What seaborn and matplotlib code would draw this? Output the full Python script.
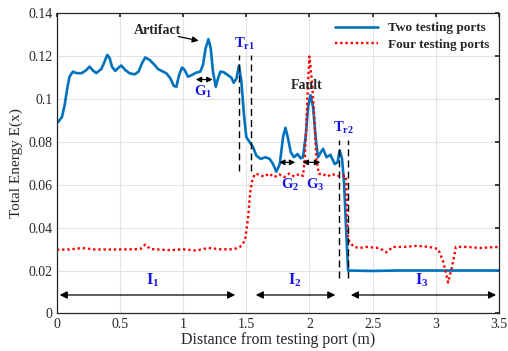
import numpy as np
import pandas as pd
import matplotlib
matplotlib.use("Agg")
import matplotlib.pyplot as plt
import seaborn as sns

# curva com duas portas de teste
x_two = [0.00, 0.013, 0.04, 0.061, 0.082, 0.10, 0.127, 0.154, 0.193, 0.225, 0.259,
         0.285, 0.312, 0.352, 0.378, 0.399, 0.418, 0.436, 0.462, 0.489, 0.51,
         0.542, 0.576, 0.616, 0.647, 0.674, 0.70, 0.735, 0.774, 0.80, 0.84, 0.867,
         0.899, 0.925, 0.946, 0.967, 0.991, 1.012, 1.038, 1.065, 1.104, 1.136,
         1.157, 1.178, 1.20, 1.218, 1.236, 1.258, 1.276, 1.295, 1.321, 1.355,
         1.382, 1.40, 1.422, 1.442, 1.461, 1.482, 1.50, 1.527, 1.553, 1.58, 1.614,
         1.651, 1.685, 1.712, 1.738, 1.765, 1.791, 1.81, 1.831, 1.852, 1.878,
         1.905, 1.931, 1.949, 1.971, 1.989, 2.008, 2.029, 2.05, 2.068, 2.09,
         2.108, 2.135, 2.166, 2.20, 2.222, 2.24, 2.258, 2.274, 2.29, 2.306, 2.40,
         2.50, 2.70, 3.00, 3.50]
y_two = [0.0888, 0.0895, 0.0915, 0.097, 0.1048, 0.1103, 0.1127, 0.112, 0.1119,
         0.113, 0.115, 0.1132, 0.112, 0.1139, 0.1174, 0.1205, 0.1189, 0.115,
         0.113, 0.1146, 0.1155, 0.1134, 0.1119, 0.1114, 0.1127, 0.1166, 0.1193,
         0.1181, 0.1158, 0.1139, 0.1127, 0.1119, 0.1095, 0.1061, 0.1056, 0.111,
         0.1146, 0.1134, 0.1103, 0.111, 0.1122, 0.1127, 0.1158, 0.1236, 0.1278,
         0.1236, 0.1127, 0.1056, 0.1095, 0.1127, 0.1124, 0.111, 0.1099, 0.1075,
         0.1095, 0.1155, 0.108, 0.0923, 0.0822, 0.0798, 0.0775, 0.0735, 0.072,
         0.0728, 0.072, 0.0696, 0.066, 0.0696, 0.0822, 0.0865, 0.0814, 0.0751,
         0.0728, 0.0743, 0.0723, 0.0728, 0.0829, 0.0962, 0.1017, 0.0962, 0.0814,
         0.0728, 0.0751, 0.0767, 0.0728, 0.0739, 0.0696, 0.0704, 0.0759, 0.072,
         0.061, 0.040, 0.020, 0.0199, 0.0198, 0.020, 0.020, 0.020]

# curva com quatro portas de teste
x_four = [0.00, 0.10, 0.20, 0.30, 0.40, 0.50, 0.60, 0.66, 0.70, 0.74, 0.80, 0.90,
          1.00, 1.10, 1.20, 1.30, 1.40, 1.45, 1.49, 1.515, 1.53, 1.545, 1.567,
          1.60, 1.64, 1.68, 1.72, 1.76, 1.80, 1.84, 1.88, 1.92, 1.949, 1.963,
          1.976, 1.989, 2.00, 2.02, 2.037, 2.055, 2.074, 2.10, 2.14, 2.18, 2.22,
          2.26, 2.29, 2.30, 2.306, 2.35, 2.40, 2.45, 2.55, 2.61, 2.66, 2.75, 2.85,
          2.95, 3.02, 3.06, 3.098, 3.13, 3.16, 3.25, 3.35, 3.50]
y_four = [0.0297, 0.0298, 0.0305, 0.0298, 0.0298, 0.0298, 0.0299, 0.030, 0.0321,
          0.030, 0.0298, 0.0295, 0.0299, 0.0293, 0.0305, 0.0299, 0.0299, 0.031,
          0.034, 0.045, 0.056, 0.0615, 0.065, 0.0648, 0.0637, 0.0652, 0.0635,
          0.0648, 0.0635, 0.0652, 0.0638, 0.065, 0.0641, 0.072, 0.0892, 0.108,
          0.1197, 0.108, 0.0923, 0.072, 0.065, 0.0652, 0.0638, 0.065, 0.0640,
          0.0642, 0.0640, 0.045, 0.0344, 0.031, 0.0305, 0.031, 0.0305, 0.0285,
          0.031, 0.031, 0.0315, 0.031, 0.030, 0.024, 0.0144, 0.022, 0.031, 0.031,
          0.0305, 0.031]

x_ticks = [0, 0.5, 1, 1.5, 2, 2.5, 3, 3.5]
x_tick_labels = ["0", "0.5", "1", "1.5", "2", "2.5", "3", "3.5"]
y_ticks = [0, 0.02, 0.04, 0.06, 0.08, 0.1, 0.12, 0.14]
y_tick_labels = ["0", "0.02", "0.04", "0.06", "0.08", "0.1", "0.12", "0.14"]

df_two = pd.DataFrame({"x": x_two, "y": y_two})
df_four = pd.DataFrame({"x": x_four, "y": y_four})

sns.set_theme(style="whitegrid")
plt.rcParams["font.family"] = ["Liberation Serif", "DejaVu Serif"]
plt.rcParams["mathtext.fontset"] = "custom"
plt.rcParams["mathtext.rm"] = "Liberation Serif"
plt.rcParams["mathtext.bf"] = "Liberation Serif:bold"

fig = plt.figure(figsize=(5.08, 3.51), dpi=100)
ax = fig.add_axes([0.112, 0.107, 0.870, 0.856])

sns.lineplot(data=df_two, x="x", y="y", ax=ax, color="#0072BD", linewidth=1.9,
             sort=False, label="Two testing ports")
sns.lineplot(data=df_four, x="x", y="y", ax=ax, color="red", linewidth=1.7,
             linestyle=(0, (1, 1.2)), sort=False, label="Four testing ports")

ax.set_xlim(0, 3.5)
ax.set_ylim(0, 0.14)
ax.set_xticks(x_ticks)
ax.set_xticklabels(x_tick_labels)
ax.set_yticks(y_ticks)
ax.set_yticklabels(y_tick_labels)
ax.set_xlabel("Distance from testing port (m)", fontsize=11.5, labelpad=1)
ax.set_ylabel("Total Energy E(x)", fontsize=11, labelpad=4)
ax.tick_params(direction="in", top=True, right=True, length=3, labelsize=10,
               pad=3, colors="#262626")
ax.grid(True, color="#e3e3e3", linewidth=0.8)
for s in ax.spines.values():
    s.set_color("#262626")
    s.set_linewidth(0.9)

leg = ax.legend(loc="upper right", frameon=False, handlelength=3.2,
                prop={"weight": "bold", "size": 9.5}, borderaxespad=0.3,
                labelspacing=0.3)

# linhas tracejadas das transicoes
dash = dict(color="black", linestyle=(0, (5, 3)), linewidth=1.0)
ax.plot([1.442, 1.442], [0.0665, 0.1205], **dash)
ax.plot([1.54, 1.54], [0.0665, 0.1205], **dash)
ax.plot([2.235, 2.235], [0.0164, 0.0806], **dash)
ax.plot([2.306, 2.306], [0.0164, 0.0806], **dash)

blue = "#1414e6"
ax.text(1.487, 0.1255, r"T$_{\mathbf{r1}}$", color=blue, fontsize=10.5,
        fontweight="bold", ha="center", va="center")
ax.text(2.272, 0.0865, r"T$_{\mathbf{r2}}$", color=blue, fontsize=10.5,
        fontweight="bold", ha="center", va="center")

# artefato e falta
ax.annotate("", xy=(1.144, 0.1268), xytext=(0.94, 0.1293),
            arrowprops=dict(arrowstyle="-|>", color="black", lw=0.9,
                            mutation_scale=9))
ax.text(0.80, 0.1318, "Artifact", fontsize=10, fontweight="bold", ha="center",
        va="center")
ax.text(1.98, 0.1064, "Fault", fontsize=10, fontweight="bold", ha="center",
        va="center")

# setas duplas G
darr = dict(arrowstyle="<|-|>", color="black", lw=0.9, mutation_scale=8)
ax.annotate("", xy=(1.078, 0.1090), xytext=(1.255, 0.1090), arrowprops=darr)
ax.annotate("", xy=(1.738, 0.0704), xytext=(1.91, 0.0704), arrowprops=darr)
ax.annotate("", xy=(1.923, 0.0704), xytext=(2.108, 0.0704), arrowprops=darr)
ax.text(1.157, 0.1033, r"G$_{\mathbf{1}}$", color=blue, fontsize=10.5,
        fontweight="bold", ha="center", va="center")
ax.text(1.844, 0.0602, r"G$_{\mathbf{2}}$", color=blue, fontsize=10.5,
        fontweight="bold", ha="center", va="center")
ax.text(2.042, 0.0602, r"G$_{\mathbf{3}}$", color=blue, fontsize=10.5,
        fontweight="bold", ha="center", va="center")

# intervalos I
iarr = dict(arrowstyle="<|-|>", color="black", lw=0.9, mutation_scale=11)
ax.annotate("", xy=(0.0, 0.0086), xytext=(1.434, 0.0086), arrowprops=iarr)
ax.annotate("", xy=(1.553, 0.0086), xytext=(2.227, 0.0086), arrowprops=iarr)
ax.annotate("", xy=(2.306, 0.0086), xytext=(3.5, 0.0086), arrowprops=iarr)
ax.text(0.76, 0.0153, r"I$_{\mathbf{1}}$", color=blue, fontsize=11.5,
        fontweight="bold", ha="center", va="center")
ax.text(1.884, 0.0153, r"I$_{\mathbf{2}}$", color=blue, fontsize=11.5,
        fontweight="bold", ha="center", va="center")
ax.text(2.887, 0.0153, r"I$_{\mathbf{3}}$", color=blue, fontsize=11.5,
        fontweight="bold", ha="center", va="center")

fig.savefig("out.png", dpi=100)
